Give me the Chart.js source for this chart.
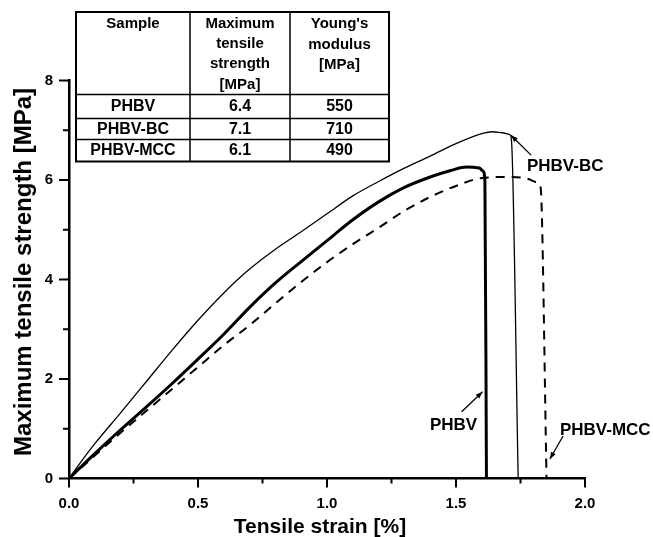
<!DOCTYPE html>
<html>
<head>
<meta charset="utf-8">
<script src="https://cdn.jsdelivr.net/npm/chart.js@4.4.1/dist/chart.umd.min.js"></script>
<style>
html,body{margin:0;padding:0;background:#fff;}
#c{display:block;}
</style>
</head>
<body>
<canvas id="c" width="653" height="537"></canvas>
<script>
// ---- Data ----
const phbvStrain = [0,0.1,0.2,0.3,0.4,0.5,0.6,0.7,0.8,0.9,1.0,1.1,1.2,1.3,1.4,1.48,1.54,1.59,1.605,1.612,1.618];
const phbvStress = [0,0.50,0.98,1.44,1.91,2.40,2.90,3.44,3.93,4.36,4.78,5.20,5.56,5.85,6.06,6.19,6.26,6.24,6.18,5.98,0];

const bcStrain = [0,0.05,0.1,0.2,0.3,0.4,0.5,0.6,0.7,0.8,0.9,1.0,1.1,1.2,1.3,1.4,1.5,1.6,1.64,1.68,1.709,1.715,1.741];
const bcStress = [0,0.36,0.70,1.32,1.95,2.58,3.18,3.73,4.21,4.61,4.96,5.32,5.68,5.97,6.24,6.48,6.73,6.93,6.97,6.95,6.91,6.80,0];

const mccStrain = [0,0.1,0.2,0.3,0.4,0.5,0.6,0.7,0.8,0.9,1.0,1.1,1.2,1.3,1.4,1.5,1.6,1.7,1.774,1.819,1.828,1.851];
const mccStress = [0,0.46,0.92,1.36,1.80,2.24,2.68,3.08,3.52,3.95,4.35,4.71,5.04,5.38,5.66,5.88,6.04,6.06,6.03,5.94,5.85,0];

const xTickLabels = ['0.0','0.5','1.0','1.5','2.0'];
const yTickLabels = ['0','2','4','6','8'];

const tableHeader = [['Sample'],['Maximum','tensile','strength','[MPa]'],["Young's",'modulus','[MPa]']];
const tableSamples = ['PHBV','PHBV-BC','PHBV-MCC'];
const tableStrength = ['6.4','7.1','6.1'];
const tableModulus = ['550','710','490'];

// curve labels with arrows, in data coordinates
const curveLabels = [
  {text:'PHBV-BC',  at:[1.775,6.28], from:[1.791,6.50], to:[1.713,6.90]},
  {text:'PHBV',     at:[1.399,1.075], from:[1.522,1.343], to:[1.603,1.745]},
  {text:'PHBV-MCC', at:[1.903,0.975], from:[1.915,0.854], to:[1.864,0.392]}
];

const FONT = '"Liberation Sans", Arial, Helvetica, sans-serif';

function pts(xs, ys){ return xs.map((x,i)=>({x:x, y:ys[i]})); }

const decorPlugin = {
  id:'decor',
  afterDraw(chart){
    const ctx = chart.ctx;
    const xs = chart.scales.x, ys = chart.scales.y;
    const area = chart.chartArea;
    ctx.save();
    ctx.strokeStyle = '#000';
    ctx.fillStyle = '#000';
    // tick marks
    ctx.lineWidth = 2;
    for (let i=0;i<=8;i++){
      const v = i*0.25;
      const px = xs.getPixelForValue(v);
      const len = (i%2===0) ? 9 : 5;
      ctx.beginPath(); ctx.moveTo(px, area.bottom); ctx.lineTo(px, area.bottom+len); ctx.stroke();
    }
    for (let i=0;i<=8;i++){
      const py = ys.getPixelForValue(i);
      const len = (i%2===0) ? 10 : 6;
      ctx.beginPath(); ctx.moveTo(area.left, py); ctx.lineTo(area.left-len, py); ctx.stroke();
    }
    // axis titles
    ctx.font = 'bold 21px ' + FONT;
    ctx.textAlign = 'center';
    ctx.textBaseline = 'alphabetic';
    ctx.fillText('Tensile strain [%]', 320, 533);
    ctx.save();
    ctx.translate(31, 272);
    ctx.rotate(-Math.PI/2);
    ctx.font = 'bold 24px ' + FONT;
    ctx.fillText('Maximum tensile strength [MPa]', 0, 0);
    ctx.restore();

    // curve labels + arrows
    ctx.font = 'bold 17px ' + FONT;
    ctx.textAlign = 'left';
    ctx.textBaseline = 'middle';
    curveLabels.forEach(l=>{
      const tx = xs.getPixelForValue(l.at[0]), ty = ys.getPixelForValue(l.at[1]);
      ctx.fillText(l.text, tx, ty);
      const x1 = xs.getPixelForValue(l.from[0]), y1 = ys.getPixelForValue(l.from[1]);
      const x2 = xs.getPixelForValue(l.to[0]), y2 = ys.getPixelForValue(l.to[1]);
      ctx.lineWidth = 1.3;
      ctx.beginPath(); ctx.moveTo(x1,y1); ctx.lineTo(x2,y2); ctx.stroke();
      const ang = Math.atan2(y2-y1, x2-x1);
      const hl = 7, hw = 2.6;
      ctx.beginPath();
      ctx.moveTo(x2,y2);
      ctx.lineTo(x2 - hl*Math.cos(ang) + hw*Math.sin(ang), y2 - hl*Math.sin(ang) - hw*Math.cos(ang));
      ctx.lineTo(x2 - hl*Math.cos(ang) - hw*Math.sin(ang), y2 - hl*Math.sin(ang) + hw*Math.cos(ang));
      ctx.closePath(); ctx.fill();
    });

    // inset table
    const L = 76, R = 389, T = 12, colX = [L, 190, 290, R];
    const rowY = [T, 94.5, 118.5, 139.5, 161.5];
    ctx.fillStyle = '#fff';
    ctx.fillRect(L, T, R-L, rowY[4]-T);
    ctx.fillStyle = '#000';
    ctx.lineWidth = 1.5;
    for (let i=1;i<rowY.length-1;i++){
      ctx.beginPath(); ctx.moveTo(L, rowY[i]); ctx.lineTo(R, rowY[i]); ctx.stroke();
    }
    for (let i=1;i<colX.length-1;i++){
      ctx.beginPath(); ctx.moveTo(colX[i], T); ctx.lineTo(colX[i], rowY[4]); ctx.stroke();
    }
    ctx.lineWidth = 2;
    ctx.strokeRect(L, T, R-L, rowY[4]-T);
    ctx.textAlign = 'center';
    ctx.textBaseline = 'middle';
    ctx.font = 'bold 15px ' + FONT;
    const headerLineY = [24, 44, 64, 85];
    const headerLineY3 = [24, 45, 65];
    tableHeader.forEach((lines, c)=>{
      const cx = (colX[c]+colX[c+1])/2;
      lines.forEach((t, k)=>{
        const yy = (c===2) ? headerLineY3[k] : headerLineY[k];
        ctx.fillText(t, cx, yy);
      });
    });
    ctx.font = 'bold 16px ' + FONT;
    const cols = [tableSamples, tableStrength, tableModulus];
    cols.forEach((arr, c)=>{
      const cx = (colX[c]+colX[c+1])/2;
      arr.forEach((t, r)=>{
        const cy = (rowY[r+1]+rowY[r+2])/2 + 0.5;
        ctx.fillText(t, cx, cy);
      });
    });
    ctx.restore();
  }
};

new Chart(document.getElementById('c'), {
  type: 'scatter',
  data: {
    datasets: [
      {label:'PHBV-BC', data: pts(bcStrain, bcStress), showLine:true, borderColor:'#000', borderWidth:1.3, pointRadius:0, cubicInterpolationMode:'monotone', fill:false},
      {label:'PHBV-MCC', data: pts(mccStrain, mccStress), showLine:true, borderColor:'#000', borderWidth:2, borderDash:[9,7], pointRadius:0, cubicInterpolationMode:'monotone', fill:false},
      {label:'PHBV', data: pts(phbvStrain, phbvStress), showLine:true, borderColor:'#000', borderWidth:3, pointRadius:0, cubicInterpolationMode:'monotone', fill:false}
    ]
  },
  options: {
    responsive: false,
    animation: false,
    events: [],
    layout: { padding: { left: 0, right: 68, top: 80.5, bottom: 0 } },
    plugins: { legend: {display:false}, tooltip: {enabled:false}, title:{display:false} },
    scales: {
      x: {
        type:'linear', min:0, max:2,
        ticks: {
          stepSize:0.25, autoSkip:false, maxRotation:0, padding:16, color:'#000',
          font:{family:FONT, size:15, weight:'bold'},
          callback:(v)=>{ const i = Math.round(v/0.5); return Math.abs(v - i*0.5) < 1e-6 ? xTickLabels[i] : ''; }
        },
        grid: {display:false, drawTicks:false},
        border: {display:true, color:'#000', width:2.5},
        afterFit: (s)=>{ s.height = 58.5; }
      },
      y: {
        type:'linear', min:0, max:8,
        ticks: {
          stepSize:1, autoSkip:false, padding:16, color:'#000',
          font:{family:FONT, size:15, weight:'bold'},
          callback:(v)=>{ return (Math.round(v)%2===0) ? yTickLabels[Math.round(v)/2] : ''; }
        },
        grid: {display:false, drawTicks:false},
        border: {display:true, color:'#000', width:2.5},
        afterFit: (s)=>{ s.width = 69; }
      }
    }
  },
  plugins: [decorPlugin]
});
</script>
</body>
</html>
